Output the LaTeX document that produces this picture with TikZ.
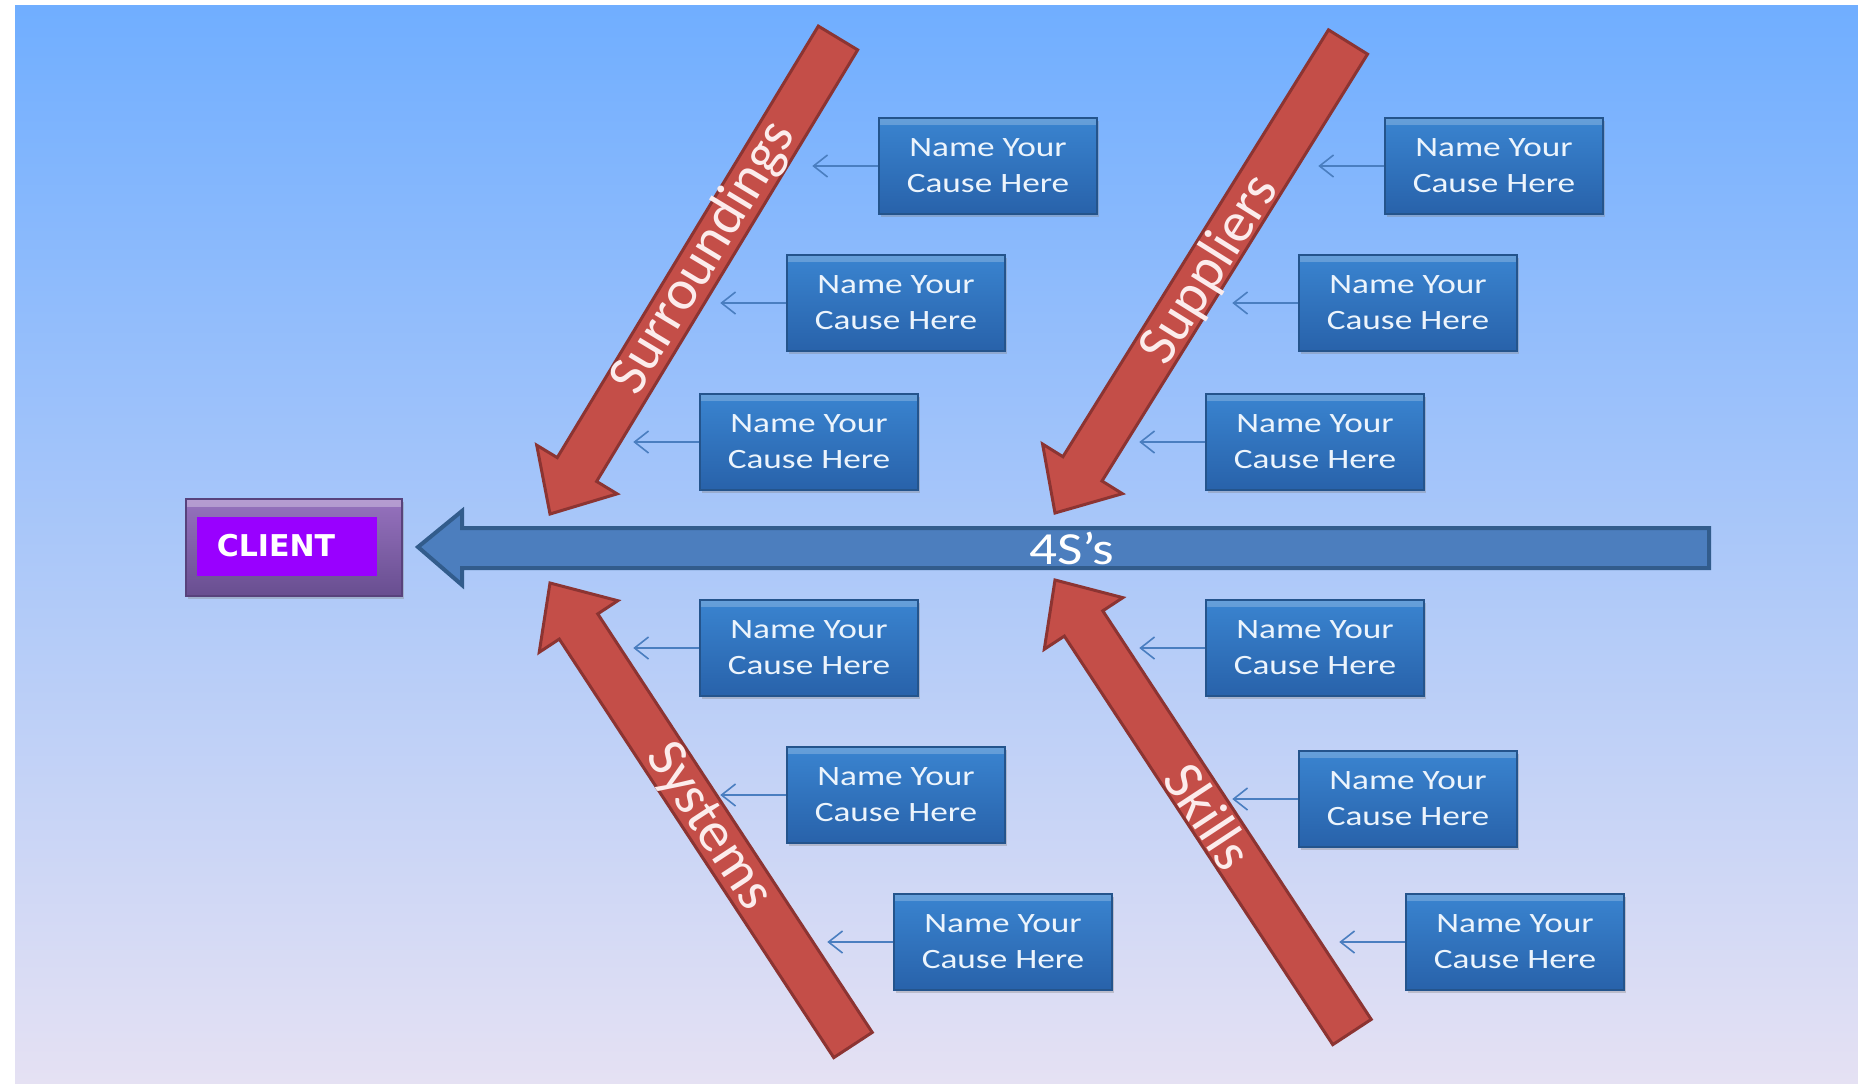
\documentclass[tikz,border=0pt]{standalone}
\usepackage{fontspec}
\setmainfont{Carlito}
\newfontfamily\boxfont[FakeStretch=1.26]{Carlito}
\newfontfamily\fsmain[FakeStretch=1.2]{Carlito}
\newfontfamily\clientfont{DejaVu Sans}
\usetikzlibrary{calc,shadows,arrows.meta}

\definecolor{bgtop}{RGB}{112,174,255}
\definecolor{bgmid}{RGB}{156,200,246}
\definecolor{bgbot}{RGB}{229,225,243}
\definecolor{boxtop}{RGB}{58,132,208}
\definecolor{boxbot}{RGB}{40,98,170}
\definecolor{boxline}{RGB}{36,84,140}
\definecolor{boxtext}{RGB}{236,244,252}
\definecolor{carrow}{RGB}{74,126,192}
\definecolor{redfill}{RGB}{196,78,72}
\definecolor{redline}{RGB}{140,52,50}
\definecolor{redtext}{RGB}{252,236,236}
\definecolor{mainfill}{RGB}{76,126,190}
\definecolor{mainline}{RGB}{50,92,140}
\definecolor{cltop}{RGB}{150,114,190}
\definecolor{clbot}{RGB}{104,78,144}
\definecolor{clline}{RGB}{88,66,124}
\definecolor{clin}{RGB}{153,0,255}

\newcommand\redarrow[2]{%
  \path ($(#2)!52pt!(#1)$) coordinate (#2n);
  \filldraw[redshape]
    ($(#1)!23pt!90:(#2)$) -- ($(#2n)!23pt!90:(#2)$) -- ($(#2n)!47pt!90:(#2)$)
    -- (#2) -- ($(#2n)!47pt!-90:(#2)$) -- ($(#2n)!23pt!-90:(#2)$)
    -- ($(#1)!23pt!-90:(#2)$) -- cycle;
}

\begin{document}
\begin{tikzpicture}[x=1pt,y=-1pt,
  causebox/.style={draw=boxline, line width=1.5pt, top color=boxtop, bottom color=boxbot,
    minimum width=218pt, minimum height=96pt, inner sep=0pt, align=center, text=boxtext,
    font=\boxfont\fontsize{28}{36}\selectfont,
    drop shadow={opacity=0.35,shadow xshift=2pt,shadow yshift=-3pt},
    path picture={\fill[white,opacity=0.22] (path picture bounding box.north west) rectangle ([yshift=-7pt]path picture bounding box.north east);}},
  causearrow/.style={draw=carrow, line width=1.6pt, -{Straight Barb[length=14pt,width=22pt]}},
  redshape/.style={fill=redfill, draw=redline, line width=3pt, line join=miter},
  redlabel/.style={text=redtext, inner sep=0pt, font=\fontsize{57}{57}\selectfont},
  mainarrow/.style={fill=mainfill, draw=mainline, line width=4pt, line join=miter}
]
\useasboundingbox (0,0) rectangle (1858,1085);
\fill[white] (0,0) rectangle (1858,1085);
\shade[top color=bgtop, middle color=bgmid, bottom color=bgbot] (15,5) rectangle (1858,1083);

% main arrow
\coordinate (mtip) at (418,547);
\coordinate (mend) at (1709,548);
\draw[mainarrow] (mtip) -- (462,511) -- (462,528) -- (1709,528) -- (1709,568) -- (462,568) -- (462,585) -- cycle;
\node[font=\fsmain\fontsize{46}{46}\selectfont, text=white, inner sep=0pt] (lab4s) at (1072,548) {4S’s};

% client
\node[draw=clline, line width=2pt, top color=cltop, bottom color=clbot,
  minimum width=216pt, minimum height=97pt,
  drop shadow={opacity=0.35,shadow xshift=2pt,shadow yshift=-3pt},
  path picture={\fill[white,opacity=0.3] (path picture bounding box.north west) rectangle ([yshift=-8pt]path picture bounding box.north east);}]
  (client) at (294,547.5) {};
\node[fill=clin, minimum width=180pt, minimum height=59pt, inner sep=0pt] (clientin) at (287,546.5) {};
\node[font=\clientfont\bfseries\fontsize{30}{30}\selectfont, text=white, inner sep=0pt] (clienttxt) at (276,546) {CLIENT};

% red arrows
\coordinate (sut) at (838,38);   \coordinate (sutip) at (550,514);
\coordinate (spt) at (1348,42);  \coordinate (sptip) at (1055,513);
\coordinate (syt) at (853,1045); \coordinate (sytip) at (550,583);
\coordinate (skt) at (1352,1032);\coordinate (sktip) at (1055,580);
\redarrow{sut}{sutip}
\redarrow{spt}{sptip}
\redarrow{syt}{sytip}
\redarrow{skt}{sktip}
\node[redlabel, rotate=58.9] (lsur) at (704,258) {Surroundings};
\node[redlabel, rotate=58.0] (lsup) at (1210,270) {Suppliers};
\node[redlabel, rotate=-56.7] (lsys) at (708,827) {Systems};
\node[redlabel, rotate=-56.7] (lski) at (1209,816) {Skills};

% cause boxes
\foreach \n/\x/\y in {1/988/166, 2/896/303, 3/809/442, 4/1494/166, 5/1408/303, 6/1315/442,
                      7/809/648, 8/896/795, 9/1003/942, 10/1315/648, 11/1408/799, 12/1515/942}{
  \node[causebox] (b\n) at (\x,\y) {Name Your\\Cause Here};
  \coordinate (t\n) at ($(b\n.west)+(-66,0)$);
  \draw[causearrow] (b\n.west) -- (t\n);
}
\end{tikzpicture}
\end{document}
